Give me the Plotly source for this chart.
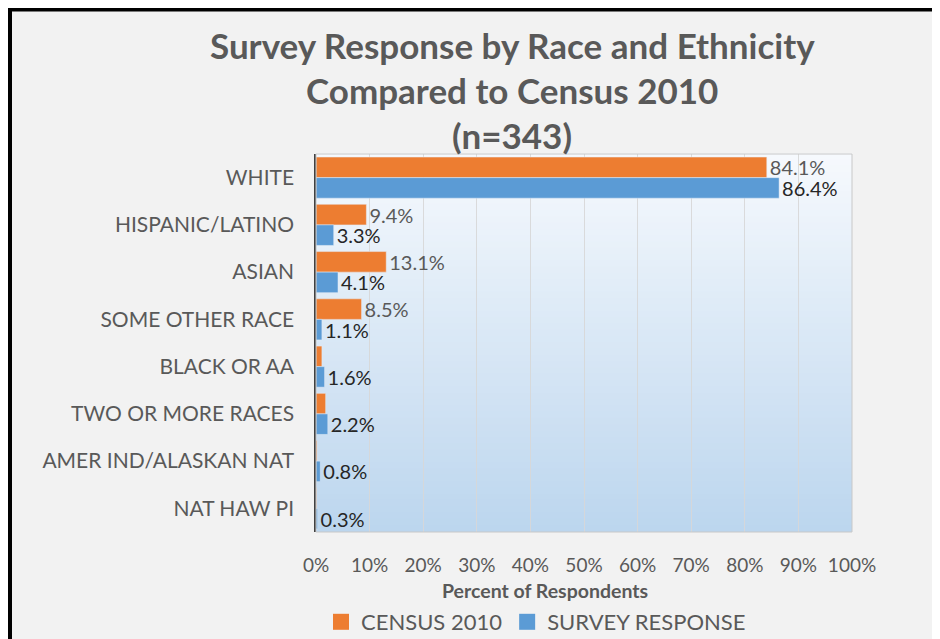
import plotly.graph_objects as go

# ---- data ----
categories = ["WHITE", "HISPANIC/LATINO", "ASIAN", "SOME OTHER RACE",
              "BLACK OR AA", "TWO OR MORE RACES", "AMER IND/ALASKAN NAT", "NAT HAW PI"]
census_2010 = [84.1, 9.4, 13.1, 8.5, 1.1, 1.8, 0.2, 0.1]
census_labels = ["84.1%", "9.4%", "13.1%", "8.5%", "", "", "", ""]
survey_response = [86.4, 3.3, 4.1, 1.1, 1.6, 2.2, 0.8, 0.3]
survey_labels = ["86.4%", "3.3%", "4.1%", "1.1%", "1.6%", "2.2%", "0.8%", "0.3%"]
x_ticks = [0, 10, 20, 30, 40, 50, 60, 70, 80, 90, 100]
x_tick_labels = [f"{v}%" for v in x_ticks]

OFF = 8  # page body margin
W, H = 940, 639
L, T = 316 - OFF, 154 - OFF
R, B = W - (852 - OFF), H - (532 - OFF)
PW, PH = W - L - R, H - T - B


def px(x):
    return (x - OFF - L) / PW


def py(y):
    return (H - B - (y - OFF)) / PH


FONT = "Lato"
GRAY = "#595959"
ORANGE = "#ED7D31"
BLUE = "#5B9BD5"

fig = go.Figure()
fig.add_trace(go.Bar(
    name="CENSUS 2010", y=categories, x=census_2010, orientation="h",
    marker=dict(color=ORANGE), text=census_labels, textposition="outside",
    constraintext="none",
    textfont=dict(family=FONT, size=20, color=GRAY), cliponaxis=False,
    showlegend=False,
))
fig.add_trace(go.Bar(
    name="SURVEY RESPONSE", y=categories, x=survey_response, orientation="h",
    marker=dict(color=BLUE), text=survey_labels, textposition="outside",
    constraintext="none",
    textfont=dict(family=FONT, size=20, color="#262626"), cliponaxis=False,
    showlegend=False,
))
# legend entries
for nm, col in [("CENSUS 2010", ORANGE), ("SURVEY RESPONSE", BLUE)]:
    fig.add_trace(go.Scatter(
        x=[None], y=[None], mode="markers", name=nm,
        marker=dict(symbol="square", size=16, color=col),
    ))

shapes = []
# outer frame
shapes.append(dict(type="rect", xref="paper", yref="paper",
                   x0=px(10), x1=px(990), y0=py(690), y1=py(9.5),
                   fillcolor="#f2f2f2", line=dict(color="black", width=4),
                   layer="below"))
# gradient plot background
top = (246, 249, 253)
bot = (188, 214, 238)
n = 60
for i in range(n):
    t = i / (n - 1)
    c = tuple(round(top[k] + (bot[k] - top[k]) * t) for k in range(3))
    shapes.append(dict(type="rect", xref="paper", yref="paper",
                       x0=0, x1=1, y0=1 - (i + 1) / n, y1=1 - i / n + 0.002,
                       fillcolor="rgb(%d,%d,%d)" % c, line=dict(width=0),
                       layer="below"))
# plot border
shapes.append(dict(type="rect", xref="paper", yref="paper", x0=0, x1=1, y0=0, y1=1,
                   line=dict(color="#c8c8c8", width=1), layer="above"))
fig.update_layout(shapes=shapes)

annotations = []
for txt, yy in [("Survey Response by Race and Ethnicity", 45),
                ("Compared to Census 2010", 90), ("(n=343)", 135)]:
    annotations.append(dict(text="<b>%s</b>" % txt, xref="paper", yref="paper",
                            x=px(512), y=py(yy), xanchor="center", yanchor="middle",
                            showarrow=False, font=dict(family=FONT, size=35, color=GRAY)))
annotations.append(dict(text="<b>Percent of Respondents</b>", xref="paper", yref="paper",
                        x=px(545), y=py(590), xanchor="center", yanchor="middle",
                        showarrow=False, font=dict(family=FONT, size=19.5, color=GRAY)))
fig.update_layout(annotations=annotations)

fig.update_layout(
    width=W, height=H,
    margin=dict(l=L, r=R, t=T, b=B, pad=0, autoexpand=False),
    paper_bgcolor="white",
    plot_bgcolor="rgba(0,0,0,0)",
    barmode="group", bargap=0.13, bargroupgap=0,
    font=dict(family=FONT, color=GRAY),
    xaxis=dict(range=[0, 100], tickvals=x_ticks, ticktext=x_tick_labels,
               showgrid=True, gridcolor="rgba(215,215,215,0.9)", gridwidth=1,
               zeroline=False, showline=False, ticks="",
               tickfont=dict(family=FONT, size=19, color=GRAY),
               ticklabelstandoff=20),
    yaxis=dict(categoryorder="array", categoryarray=categories, autorange="reversed",
               showgrid=False, zeroline=False, showline=True, linecolor="#404040",
               linewidth=1.5, ticks="", ticklabelstandoff=16,
               tickfont=dict(family=FONT, size=21, color=GRAY)),
    legend=dict(orientation="h", xref="paper", yref="paper", x=px(536), y=py(622),
                xanchor="center", yanchor="middle", bgcolor="rgba(0,0,0,0)",
                font=dict(family=FONT, size=22, color=GRAY), itemsizing="trace",
                traceorder="normal"),
)

fig.write_html("out.html")
